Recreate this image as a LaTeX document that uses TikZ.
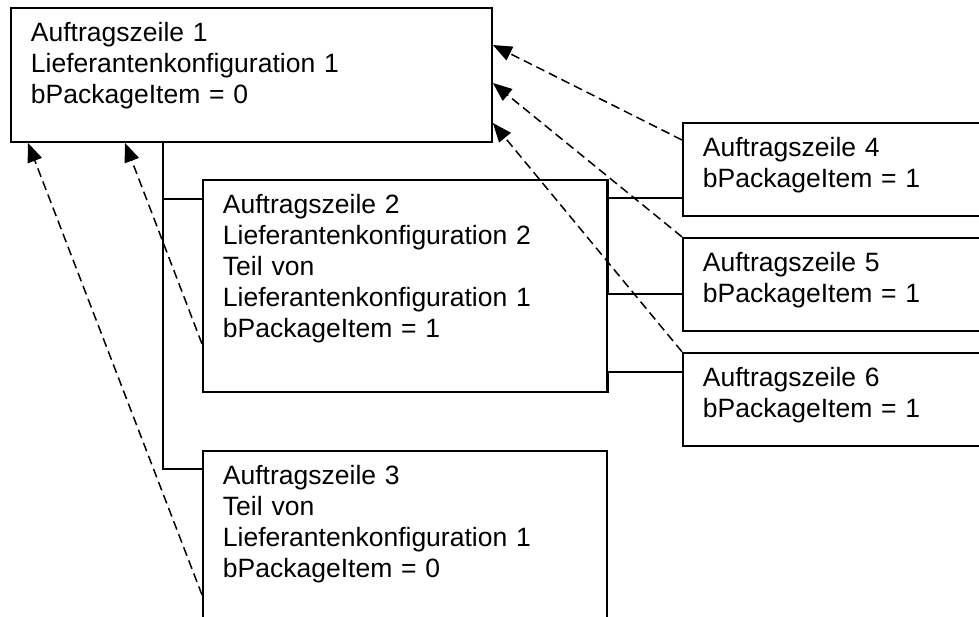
\documentclass[tikz,border=0pt]{standalone}
\usepackage{fontspec}
\setmainfont{Liberation Sans}
\usetikzlibrary{arrows.meta, positioning}

\begin{document}
\begin{tikzpicture}[
    x=1pt, y=-1pt,
    zeile/.style={draw, line width=1.9pt, anchor=north west, align=left,
      inner xsep=20pt, inner ysep=15pt, text height=19pt,
      font=\fontsize{26.5}{31}\selectfont},
    verbindung/.style={line width=1.5pt},
    bezug/.style={-{Triangle[length=19pt, width=15pt]}, dash pattern=on 9pt off 5pt, line width=1.5pt}
]
\clip (0,0) rectangle (979,617);

% Nodes
\node[zeile, text width=441pt, text depth=85pt] (z1) at (10,7) {Auftragszeile 1\\ Lieferantenkonfiguration 1\\ bPackageItem = 0};
\node[zeile, text width=364pt, text depth=163pt] (z2) at (202,179) {Auftragszeile 2\\ Lieferantenkonfiguration 2\\ Teil von\\ Lieferantenkonfiguration 1\\ bPackageItem = 1};
\node[zeile, text width=364pt, text depth=141pt, below=57pt of z2.south west, anchor=north west] (z3) {Auftragszeile 3\\ Teil von\\ Lieferantenkonfiguration 1\\ bPackageItem = 0};
\node[zeile, text width=278pt, text depth=44pt] (z4) at (682,122) {Auftragszeile 4\\ bPackageItem = 1};
\node[zeile, text width=278pt, text depth=44pt, below=20pt of z4.south west, anchor=north west] (z5) {Auftragszeile 5\\ bPackageItem = 1};
\node[zeile, text width=278pt, text depth=44pt, below=20pt of z5.south west, anchor=north west] (z6) {Auftragszeile 6\\ bPackageItem = 1};

% Tree lines
\coordinate (stamm) at ([xshift=153pt]z1.south west);
\draw[verbindung] (stamm) |- ([yshift=-19pt]z3.north west);
\draw[verbindung] ([yshift=-20pt]z2.north west) -| (stamm);
\draw[verbindung] ([yshift=19pt]z4.south west) -| (z2.north east);
\draw[verbindung] ([yshift=-57pt]z5.north west) -| (z2.north east);
\draw[verbindung] ([yshift=-20pt]z6.north west) -| (z2.south east);

% Arrows
\draw[bezug] ([yshift=-18pt]z4.north west) -- ([yshift=-38pt]z1.north east);
\draw[bezug] (z5.north west) -- ([yshift=-76pt]z1.north east);
\draw[bezug] (z6.north west) -- ([yshift=-116pt]z1.north east);
\draw[bezug] ([yshift=49pt]z2.south west) -- ([xshift=115pt]z1.south west);
\draw[bezug] ([yshift=-145pt]z3.north west) -- ([xshift=18pt]z1.south west);

\end{tikzpicture}
\end{document}
